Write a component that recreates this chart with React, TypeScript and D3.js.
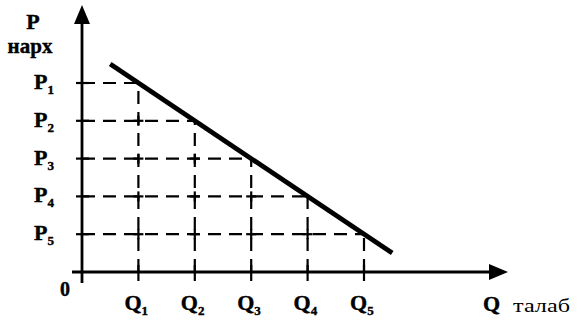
import React from 'react';
import * as d3 from 'd3';

// demand schedule: Q1..Q5 with prices P1..P5
const qValues = [1, 2, 3, 4, 5];
const pValues = [5, 4, 3, 2, 1];
const qSubs = ['1', '2', '3', '4', '5'];
const pSubs = ['1', '2', '3', '4', '5'];
// ends of the drawn demand line
const demandEnds = [
  { q: 0.5, p: 5.5 },
  { q: 5.5, p: 0.5 },
];

const W = 581;
const H = 321;
const font = '"Liberation Serif", "Times New Roman", serif';

export default function App() {
  const x = d3.scaleLinear().domain([0, 5]).range([82, 364]);
  const y = d3.scaleLinear().domain([0, 5]).range([272, 83]);
  const x0 = x(0);
  const y0 = y(0);

  const line = d3
    .line<{ q: number; p: number }>()
    .x(d => x(d.q))
    .y(d => y(d.p));

  // crossing marks where a horizontal dashed line passes a vertical one
  const crosses: { cx: number; cy: number }[] = [];
  pValues.forEach((p, j) => {
    qValues.forEach((q, i) => {
      if (i < j) crosses.push({ cx: x(q), cy: y(p) });
    });
  });

  return (
    <svg
      width={W}
      height={H}
      style={{ position: 'absolute', left: 0, top: 0, background: '#fff' }}
      fontFamily={font}
    >
      {/* dashed guides */}
      <g stroke="#000" strokeWidth={2.2} strokeDasharray="13 8" fill="none">
        {qValues.map((q, i) => (
          <g key={i}>
            <line x1={x0} x2={x(q)} y1={y(pValues[i])} y2={y(pValues[i])} />
            <line x1={x(q)} x2={x(q)} y1={y0} y2={y(pValues[i])} />
          </g>
        ))}
      </g>
      <g stroke="#000" strokeWidth={2.2}>
        {crosses.map((c, k) => (
          <g key={k}>
            <line x1={c.cx - 5} x2={c.cx + 5} y1={c.cy} y2={c.cy} />
            <line x1={c.cx} x2={c.cx} y1={c.cy - 5} y2={c.cy + 5} />
          </g>
        ))}
        {pValues.map((p, i) => (
          <line key={'pt' + i} x1={x0 - 6} x2={x0 + 7} y1={y(p)} y2={y(p)} />
        ))}
        {qValues.map((q, i) => (
          <line key={'qt' + i} x1={x(q)} x2={x(q)} y1={y0 - 7} y2={y0 + 9} />
        ))}
      </g>

      {/* axes */}
      <g stroke="#000" strokeWidth={2.8}>
        <line x1={x0} x2={x0} y1={y0 + 11} y2={20} />
        <line x1={x0 - 10} x2={492} y1={y0} y2={y0} />
      </g>
      <polygon points={`${x0},5 ${x0 - 8},24 ${x0 + 8},24`} fill="#000" />
      <polygon points={`508,${y0} 489,${y0 - 8} 489,${y0 + 8}`} fill="#000" />

      {/* demand line */}
      <path d={line(demandEnds) || ''} stroke="#000" strokeWidth={4.8} fill="none" />

      {/* labels */}
      <g fontWeight="bold" fill="#000" stroke="#000" strokeWidth={0.4}>
        <text x={33} y={29} fontSize={22} textAnchor="middle">P</text>
        <text x={30} y={53} fontSize={21} textAnchor="middle">нарх</text>
        {pValues.map((p, i) => (
          <text key={'pl' + i} x={34} y={y(p) + 6} fontSize={22}>
            P<tspan fontSize={13} dy={5}>{pSubs[i]}</tspan>
          </text>
        ))}
        {qValues.map((q, i) => (
          <text key={'ql' + i} x={x(q) - 14} y={310} fontSize={22}>
            Q<tspan fontSize={13} dy={5}>{qSubs[i]}</tspan>
          </text>
        ))}
        <text x={65} y={296} fontSize={20} textAnchor="middle">0</text>
        <text x={483} y={311} fontSize={22}>Q</text>
      </g>
      <text x={513} y={312} fontSize={19} textLength={57} lengthAdjust="spacingAndGlyphs">талаб</text>
    </svg>
  );
}
